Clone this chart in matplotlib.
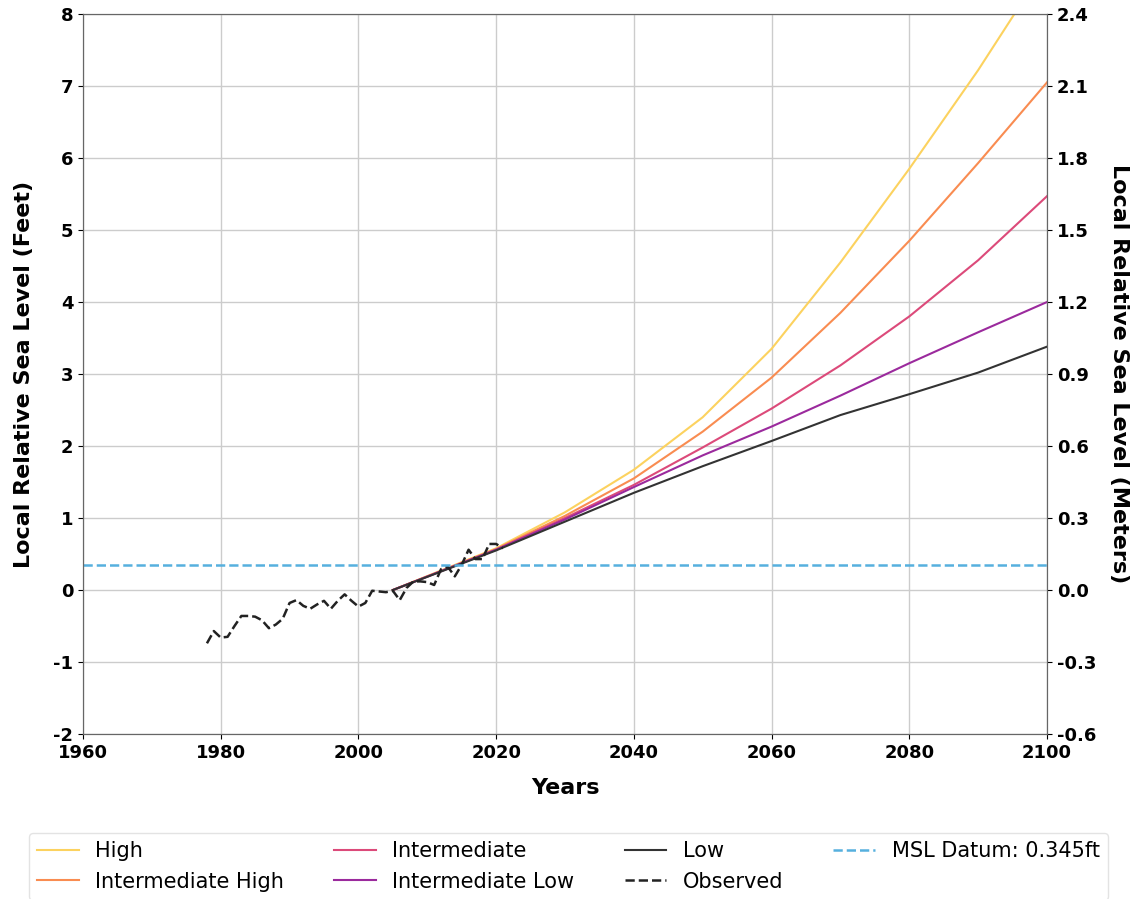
import matplotlib
matplotlib.use("Agg")
import matplotlib.pyplot as plt

plt.rcParams["axes.unicode_minus"] = False

# projection years and scenarios (feet)
years = [2005, 2020, 2030, 2040, 2050, 2060, 2070, 2080, 2090, 2100]
high = [0.0, 0.58, 1.08, 1.67, 2.40, 3.35, 4.55, 5.85, 7.22, 8.70]
int_high = [0.0, 0.57, 1.03, 1.55, 2.20, 2.95, 3.85, 4.85, 5.93, 7.05]
intermediate = [0.0, 0.56, 1.00, 1.46, 1.98, 2.52, 3.12, 3.80, 4.58, 5.47]
int_low = [0.0, 0.56, 0.98, 1.43, 1.87, 2.27, 2.70, 3.15, 3.58, 4.00]
low = [0.0, 0.55, 0.95, 1.35, 1.72, 2.07, 2.43, 2.72, 3.02, 3.38]

# observed annual mean (feet)
obs_years = list(range(1978, 2022))
observed = [-0.74, -0.57, -0.66, -0.65, -0.50, -0.36, -0.36, -0.37, -0.42, -0.53,
            -0.48, -0.40, -0.18, -0.14, -0.22, -0.26, -0.20, -0.15, -0.26, -0.15,
            -0.06, -0.15, -0.23, -0.18, -0.01, -0.02, -0.03, -0.01, -0.14, 0.03,
            0.12, 0.12, 0.11, 0.07, 0.29, 0.32, 0.19, 0.35, 0.56, 0.43,
            0.43, 0.64, 0.64, 0.58]

msl_datum = 0.345

fig = plt.figure(figsize=(11.4, 8.99), dpi=100)
ax = fig.add_axes([0.0728, 0.1835, 0.8456, 0.8009])

ax.plot(years, high, color="#fcd25f", lw=1.5, label="High")
ax.plot(years, int_high, color="#f98c51", lw=1.5, label="Intermediate High")
ax.plot(years, intermediate, color="#dc4a7a", lw=1.5, label="Intermediate")
ax.plot(years, int_low, color="#9b2a9d", lw=1.5, label="Intermediate Low")
ax.plot(years, low, color="#333333", lw=1.5, label="Low")
ax.plot(obs_years, observed, color="#222222", lw=1.8, ls="--", label="Observed")
ax.axhline(msl_datum, color="#56b0de", lw=1.8, ls="--", label="MSL Datum: 0.345ft")

ax.set_xlim(1960, 2100)
ax.set_ylim(-2, 8)
ax.set_xticks(range(1960, 2101, 20))
ax.set_yticks(range(-2, 9))
ax.grid(True, color="#cccccc", lw=1)
ax.set_axisbelow(True)
ax.set_xlabel("Years", fontsize=16, fontweight="bold", labelpad=12)
ax.set_ylabel("Local Relative Sea Level (Feet)", fontsize=16, fontweight="bold", labelpad=14)
for lab in ax.get_xticklabels() + ax.get_yticklabels():
    lab.set_fontweight("bold")
    lab.set_fontsize(13)

ax2 = ax.twinx()
ax2.set_ylim(-0.6, 2.4)
ax2.set_yticks([-0.6, -0.3, 0.0, 0.3, 0.6, 0.9, 1.2, 1.5, 1.8, 2.1, 2.4])
ax2.set_yticklabels([f"{v:.1f}" for v in ax2.get_yticks()], fontsize=13, fontweight="bold")
ax2.set_ylabel("Local Relative Sea Level (Meters)", fontsize=16, fontweight="bold",
               rotation=270, labelpad=24)

for a in (ax, ax2):
    for s in a.spines.values():
        s.set_color("#666666")

handles, labels = ax.get_legend_handles_labels()
fig.legend(handles, labels, loc="upper left", ncol=4, fontsize=15,
           bbox_to_anchor=(0.016, 0.0, 0.965, 0.085), mode="expand",
           frameon=True, edgecolor="#dddddd")

fig.savefig("out.png", dpi=100)
